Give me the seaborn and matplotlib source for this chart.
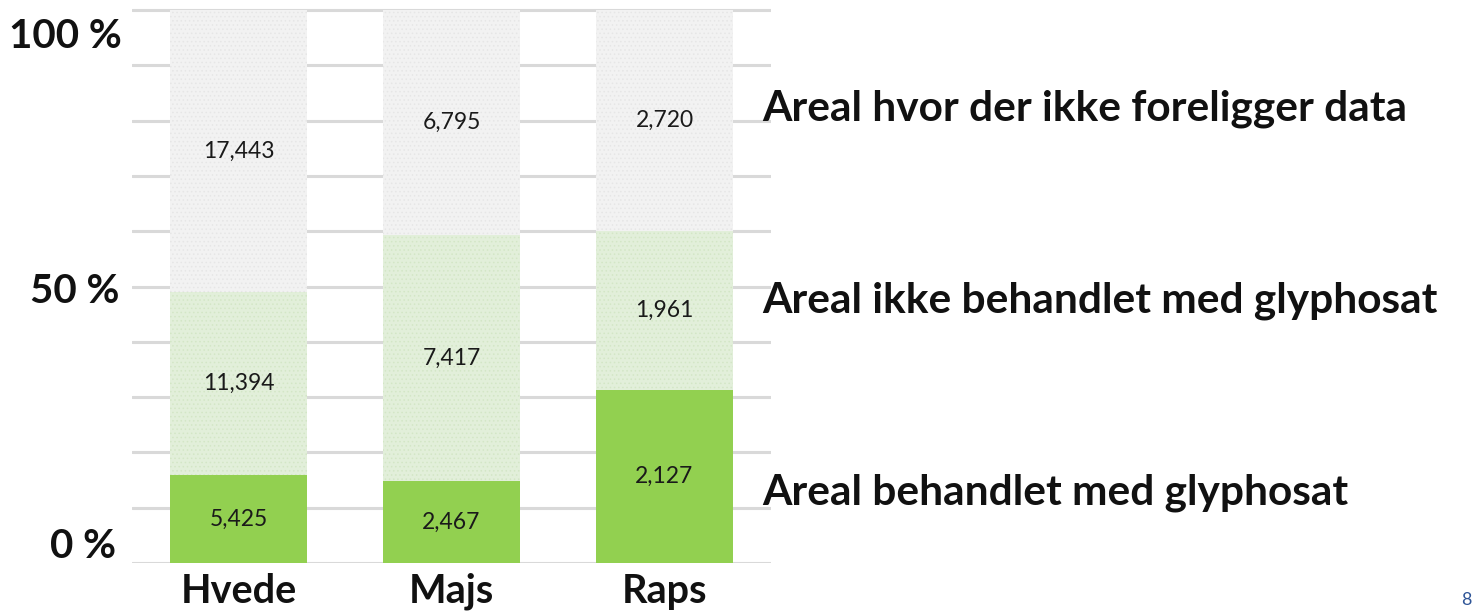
import numpy as np
import pandas as pd
import matplotlib
matplotlib.use("Agg")
import matplotlib.pyplot as plt
import seaborn as sns

# Areal per afgrøde (hektar), nederst -> øverst
crops = ["Hvede", "Majs", "Raps"]
treated = [5425, 2467, 2127]
not_treated = [11394, 7417, 1961]
no_data = [17443, 6795, 2720]

series_labels = [
    "Areal behandlet med glyphosat",
    "Areal ikke behandlet med glyphosat",
    "Areal hvor der ikke foreligger data",
]
series_colors = ["#92d050", "#e2efda", "#f2f2f2"]
hatch_colors = ["#92d050", "#d3e6c6", "#e6e6e6"]
ytick_labels = ["0 %", "50 %", "100 %"]

sns.set_style("white")
plt.rcParams["font.family"] = ["Lato", "DejaVu Sans"]
plt.rcParams["hatch.linewidth"] = 0.6

W, H = 1473, 615

df = pd.DataFrame({"crop": crops, "treated": treated,
                   "not_treated": not_treated, "no_data": no_data})
cols = ["treated", "not_treated", "no_data"]
total = df[cols].sum(axis=1)
parts = df[cols].div(total, axis=0) * 100
cum = parts.cumsum(axis=1)

fig = plt.figure(figsize=(W / 100, H / 100), dpi=100)
ax = fig.add_axes([132 / W, 52 / H, 639 / W, 555 / H])

# gridlines every 10 %
for v in range(0, 101, 10):
    ax.axhline(v, color="#d9d9d9", lw=2.2, zorder=0)

# stacked bars: draw cumulative heights from top layer down
for i in [2, 1, 0]:
    sns.barplot(x=df["crop"], y=cum[cols[i]], color=series_colors[i],
                width=0.64, saturation=1, ax=ax, zorder=2,
                edgecolor=hatch_colors[i], linewidth=0,
                hatch=None if i == 0 else "....")

# value labels centered in each segment
for j in range(len(crops)):
    lower = 0
    for c in cols:
        mid = lower + parts.loc[j, c] / 2
        ax.text(j, mid, f"{df.loc[j, c]:,}", ha="center", va="center",
                fontsize=16.5, color="#1a1a1a", zorder=5)
        lower += parts.loc[j, c]

ax.set_xlim(-0.5, 2.5)
ax.set_ylim(0, 100.4)
ax.set_xlabel("")
ax.set_ylabel("")
ax.set_yticks([])
ax.set_xticks(range(len(crops)))
ax.set_xticklabels(crops, fontsize=28.5, fontweight="bold", color="#111111")
ax.tick_params(axis="x", length=0, pad=28.8)
for lbl in ax.get_xticklabels():
    lbl.set_va("baseline")
sns.despine(ax=ax, left=True, bottom=True)

# y labels as slide text next to the axis (right edge, baseline in px)
ylabel_pos = [(116, 558), (119, 303), (122, 48)]
for (xpx, ypx), lab in zip(ylabel_pos, ytick_labels):
    fig.text(xpx / W, 1 - ypx / H, lab, ha="right", va="baseline",
             fontsize=29, fontweight="bold", color="#111111")

# series names at the right
legend_base = [505, 313, 121]
for ypx, lab in zip(legend_base, series_labels):
    fig.text(762 / W, 1 - ypx / H, lab, ha="left", va="baseline",
             fontsize=30.5, fontweight="bold", color="#111111")

# slide page number
fig.text(1472 / W, 1 - 605 / H, "8", ha="right", va="baseline",
         fontsize=13, color="#2f5597")

fig.savefig("out.png", dpi=100)
